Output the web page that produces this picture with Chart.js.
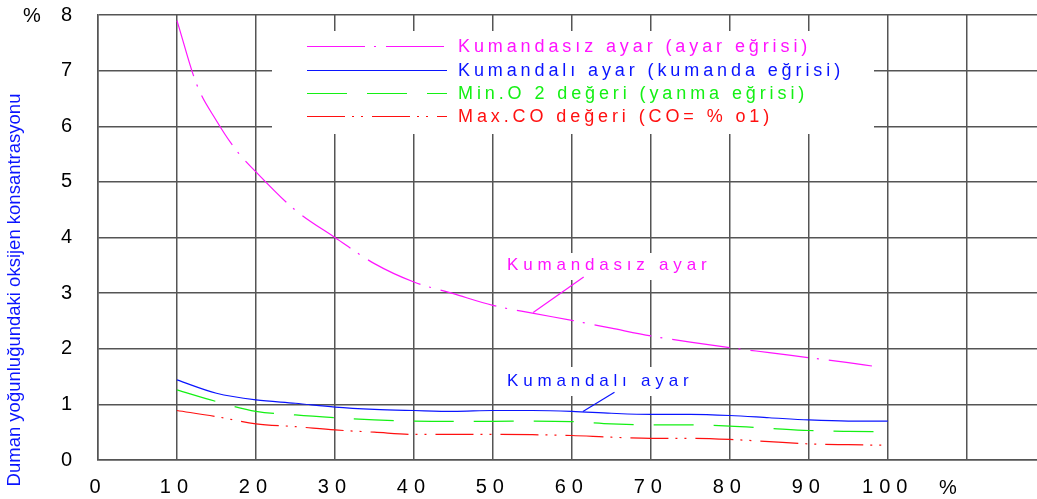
<!DOCTYPE html>
<html lang="tr">
<head>
<meta charset="utf-8">
<title>Duman oksijen konsantrasyonu</title>
<script src="https://cdn.jsdelivr.net/npm/chart.js@4/dist/chart.umd.min.js"></script>
<style>
  html, body { margin: 0; padding: 0; background: #fff; }
  #wrap { width: 1037px; height: 499px; position: relative; }
</style>
</head>
<body>
<div id="wrap"><canvas id="c"></canvas></div>
<script>
// Load (%) positions where each curve was sampled
const xUncontrolled = [10, 12.5, 15, 17.5, 20, 25, 30, 35, 40, 45, 50, 55, 60, 65, 70, 75, 80, 85, 90, 95, 98];
const xLoad = [10, 15, 20, 25, 30, 35, 40, 45, 50, 55, 60, 65, 70, 75, 80, 85, 90, 95, 100];

// Oxygen concentration in flue gas (%)
const uncontrolled = [7.9, 6.75, 6.1, 5.57, 5.18, 4.49, 4.0, 3.53, 3.2, 2.99, 2.78, 2.64, 2.51, 2.37, 2.23, 2.12, 2.02, 1.93, 1.84, 1.75, 1.69];
const controlled   = [1.44, 1.20, 1.08, 1.02, 0.95, 0.91, 0.89, 0.875, 0.89, 0.89, 0.875, 0.84, 0.82, 0.82, 0.80, 0.76, 0.72, 0.70, 0.70];
const minO2        = [1.26, 1.05, 0.875, 0.81, 0.76, 0.72, 0.70, 0.695, 0.695, 0.70, 0.69, 0.65, 0.63, 0.63, 0.61, 0.57, 0.53, 0.515, 0.51];
const maxCO        = [0.89, 0.78, 0.65, 0.60, 0.54, 0.50, 0.46, 0.46, 0.46, 0.455, 0.44, 0.41, 0.39, 0.39, 0.37, 0.33, 0.29, 0.275, 0.265];

const seriesNames = [
  'Kumandasız ayar (ayar eğrisi)',
  'Kumandalı ayar (kumanda eğrisi)',
  'Min.O\u2082 değeri (yanma eğrisi)',
  'Max.CO değeri (CO= %\u20801)'
];
const legendTexts = [
  'Kumandasız ayar (ayar eğrisi)',
  'Kumandalı ayar (kumanda eğrisi)',
  'Min.O 2 değeri (yanma eğrisi)',
  'Max.CO değeri (CO= % o1)'
];
const curveLabels = ['Kumandasız ayar', 'Kumandalı ayar'];
const yTitle = 'Duman yoğunluğundaki oksijen konsantrasyonu';

const xTickValues = [0, 10, 20, 30, 40, 50, 60, 70, 80, 90, 100];

const MAGENTA = '#ff14ff';
const BLUE = '#0a14ff';
const GREEN = '#14f014';
const RED = '#ff1010';
const GRID = '#555555';
const FONT = '"Liberation Sans", Arial, sans-serif';

function pts(xs, ys) { return xs.map((x, i) => ({ x: x, y: ys[i] })); }

function lineSet(label, data, color, dash) {
  return {
    label: label,
    data: data,
    borderColor: color,
    backgroundColor: color,
    borderWidth: 1.2,
    borderDash: dash,
    pointRadius: 0,
    fill: false,
    cubicInterpolationMode: 'monotone'
  };
}

// Overlays: cut-outs in the grid, legend, curve captions and axis captions
const overlay = {
  id: 'overlay',
  beforeDraw(chart) {
    chart.ctx.letterSpacing = '6px';
  },
  beforeDatasetsDraw(chart) {
    const ctx = chart.ctx;
    ctx.save();
    ctx.letterSpacing = '0px';
    ctx.fillStyle = '#ffffff';
    ctx.fillRect(272, 31, 602, 103);
    ctx.fillRect(500, 253, 220, 27);
    ctx.fillRect(500, 367, 200, 29);
    ctx.restore();
    chart.ctx.letterSpacing = '0px';
  },
  afterDatasetsDraw(chart) {
    const ctx = chart.ctx;
    const xs = chart.scales.x, ys = chart.scales.y;
    const px = v => xs.getPixelForValue(v);
    const py = v => ys.getPixelForValue(v);
    ctx.save();

    // legend
    const rows = [46, 70, 93, 116];
    chart.data.datasets.forEach((ds, i) => {
      ctx.beginPath();
      ctx.strokeStyle = ds.borderColor;
      ctx.lineWidth = 1.2;
      ctx.setLineDash(ds.borderDash || []);
      ctx.moveTo(307, rows[i] + 0.5);
      ctx.lineTo(447, rows[i] + 0.5);
      ctx.stroke();
      ctx.setLineDash([]);
      ctx.fillStyle = ds.borderColor;
      ctx.font = '18px ' + FONT;
      ctx.letterSpacing = '3.9px';
      ctx.textAlign = 'left';
      ctx.textBaseline = 'middle';
      ctx.fillText(legendTexts[i], 458, rows[i] + 1);
    });

    // curve captions with leader lines
    ctx.lineWidth = 1.2;
    ctx.strokeStyle = MAGENTA;
    ctx.beginPath();
    ctx.moveTo(px(55.1), py(2.65));
    ctx.lineTo(px(61.5), py(3.29));
    ctx.stroke();
    ctx.strokeStyle = BLUE;
    ctx.beginPath();
    ctx.moveTo(px(61.4), py(0.87));
    ctx.lineTo(px(65.4), py(1.22));
    ctx.stroke();

    ctx.font = '17px ' + FONT;
    ctx.letterSpacing = '4.8px';
    ctx.textAlign = 'left';
    ctx.textBaseline = 'middle';
    ctx.fillStyle = MAGENTA;
    ctx.fillText(curveLabels[0], px(51.8), py(3.5));
    ctx.fillStyle = BLUE;
    ctx.fillText(curveLabels[1], px(51.8), py(1.42));

    // unit marks
    ctx.letterSpacing = '0px';
    ctx.fillStyle = '#000';
    ctx.font = '20px ' + FONT;
    ctx.textAlign = 'center';
    ctx.fillText('%', 32, 16);
    ctx.fillText('%', 948, 488);

    // y axis caption
    ctx.translate(15, 290);
    ctx.rotate(-Math.PI / 2);
    ctx.font = '18.5px ' + FONT;
    ctx.fillStyle = BLUE;
    ctx.fillText(yTitle, 0, 0);
    ctx.restore();
  }
};

new Chart(document.getElementById('c'), {
  type: 'line',
  data: {
    datasets: [
      lineSet(seriesNames[0], pts(xUncontrolled, uncontrolled), MAGENTA, [58, 9, 2, 10]),
      lineSet(seriesNames[1], pts(xLoad, controlled), BLUE, []),
      lineSet(seriesNames[2], pts(xLoad, minO2), GREEN, [40, 20]),
      lineSet(seriesNames[3], pts(xLoad, maxCO), RED, [38, 7, 2, 7, 2, 9])
    ]
  },
  options: {
    responsive: true,
    maintainAspectRatio: false,
    animation: false,
    layout: { padding: { top: 0, right: 0, bottom: 0, left: 0 } },
    plugins: {
      legend: { display: false },
      tooltip: { enabled: false },
      title: { display: false }
    },
    scales: {
      x: {
        type: 'linear',
        min: 0,
        max: 118.9,
        afterFit(s) { s.height = 39; },
        afterBuildTicks(s) {
          s.ticks = xTickValues.concat([110]).map(v => ({ value: v }));
        },
        ticks: {
          stepSize: 10,
          includeBounds: false,
          autoSkip: false,
          maxRotation: 0,
          padding: 15,
          color: '#000',
          font: { family: FONT, size: 20 },
          callback: v => (xTickValues.includes(v) ? String(v) : '')
        },
        grid: { color: GRID, lineWidth: 1.5, drawTicks: false },
        border: { color: GRID, width: 1.5 }
      },
      y: {
        min: 0,
        max: 8,
        afterFit(s) {
          s.width = 98;
          s.paddingTop = 15;
          s.paddingBottom = 0;
        },
        ticks: {
          stepSize: 1,
          padding: 20,
          color: '#000',
          font: { family: FONT, size: 20 }
        },
        grid: { color: GRID, lineWidth: 1.5, drawTicks: false },
        border: { color: GRID, width: 1.5 }
      }
    }
  },
  plugins: [overlay]
});
</script>
</body>
</html>
